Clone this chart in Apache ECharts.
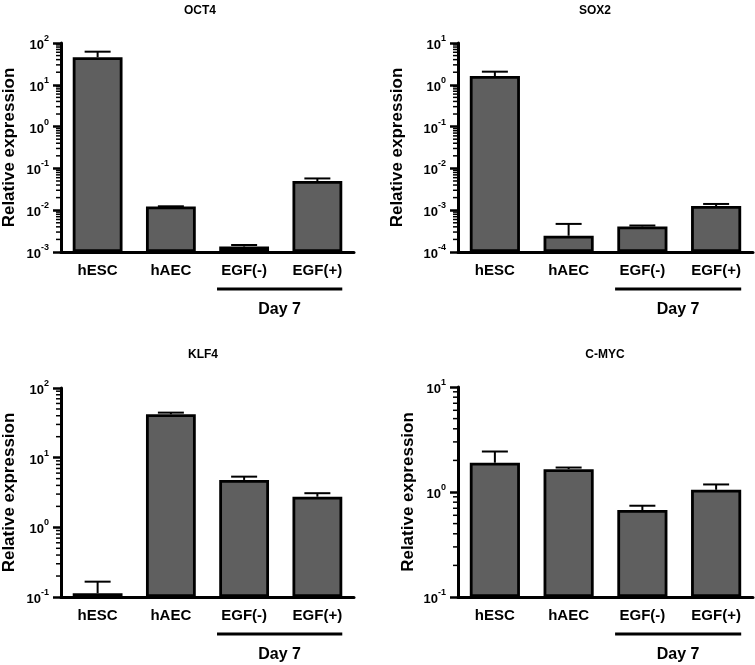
<!DOCTYPE html>
<html><head><meta charset="utf-8">
<script src="https://cdn.jsdelivr.net/npm/echarts@6/dist/echarts.min.js"></script>
<style>html,body{margin:0;padding:0;background:#fff}#c{width:755px;height:665px}</style>
</head><body><div id="c"></div>
<script>
const categories = ['hESC', 'hAEC', 'EGF(-)', 'EGF(+)'];
const panelTitles = ['OCT4', 'SOX2', 'KLF4', 'C-MYC'];
const oct4Mean = [45.7, 0.0123, 0.00135, 0.050];
const oct4Upper = [62, 0.0124, 0.00147, 0.0575];
const sox2Mean = [1.62, 0.000245, 0.00041, 0.00126];
const sox2Upper = [2.06, 0.00047, 0.00043, 0.00141];
const klf4Mean = [0.113, 42, 4.79, 2.75];
const klf4Upper = [0.166, 44.3, 5.34, 3.09];
const cmycMean = [1.90, 1.65, 0.673, 1.05];
const cmycUpper = [2.43, 1.71, 0.74, 1.18];
const yMin = [0.001, 0.0001, 0.1, 0.1];
const yMax = [100, 10, 100, 10];
const minorMultipliers = [2, 3, 4, 5, 6, 7, 8, 9];
const yAxisTitle = 'Relative expression';
const groupLabel = 'Day 7';
const groupStart = 2, groupEnd = 3;

const means = [oct4Mean, sox2Mean, klf4Mean, cmycMean];
const uppers = [oct4Upper, sox2Upper, klf4Upper, cmycUpper];

const FONT = '"Liberation Sans", Arial, sans-serif';
const grids = [
  {left: 61, top: 43, width: 293, height: 209},
  {left: 458, top: 43, width: 295, height: 209},
  {left: 61, top: 388, width: 293, height: 209},
  {left: 458, top: 387, width: 295, height: 210}
].map(g => Object.assign(g, {containLabel: false, outerBoundsMode: 'none'}));
const nameGaps = [43, 52, 43, 41];
const titlePos = [[200, 11], [595, 11], [203, 355], [605, 355]];

function minorValues(p) {
  const out = [];
  const lo = Math.round(Math.log10(yMin[p])), hi = Math.round(Math.log10(yMax[p]));
  for (let k = lo; k < hi; k++) {
    minorMultipliers.forEach(m => out.push([0, m * Math.pow(10, k)]));
  }
  return out;
}

function minorRender(params, api) {
  const cs = params.coordSys;
  const pt = api.coord([0, api.value(1)]);
  return {type: 'line', shape: {x1: cs.x - 5, y1: pt[1], x2: cs.x, y2: pt[1]},
    style: {stroke: '#000', lineWidth: 1.5}};
}

function groupRender(p) {
  return function (params, api) {
    const cs = params.coordSys;
    const c0 = api.coord([0, yMin[p]])[0], c1 = api.coord([1, yMin[p]])[0];
    const band = c1 - c0;
    const xs = api.coord([groupStart, yMin[p]])[0] - band * 0.37;
    const xe = api.coord([groupEnd, yMin[p]])[0] + band * 0.34;
    const yb = cs.y + cs.height;
    return {type: 'group', children: [
      {type: 'line', shape: {x1: xs, y1: yb + 37, x2: xe, y2: yb + 37}, style: {stroke: '#000', lineWidth: 3}},
      {type: 'text', x: (xs + xe) / 2, y: yb + 58,
        style: {text: groupLabel, font: 'bold 16px ' + FONT, fill: '#000', align: 'center', verticalAlign: 'middle'}}
    ]};
  };
}

function errRender(params, api) {
  const x = api.value(0), m = api.value(1), u = api.value(2);
  const p0 = api.coord([x, m]), p1 = api.coord([x, u]);
  return {type: 'group', children: [
    {type: 'line', shape: {x1: p0[0], y1: p0[1], x2: p1[0], y2: p1[1]}, style: {stroke: '#000', lineWidth: 2}},
    {type: 'line', shape: {x1: p1[0] - 13, y1: p1[1], x2: p1[0] + 13, y2: p1[1]}, style: {stroke: '#000', lineWidth: 2}}
  ]};
}

const xAxes = [], yAxes = [], series = [], graphics = [];
for (let p = 0; p < 4; p++) {
  xAxes.push({
    type: 'category', gridIndex: p, data: categories, boundaryGap: true,
    axisLine: {lineStyle: {color: '#000', width: 3}},
    axisTick: {alignWithLabel: true, length: 6, lineStyle: {color: '#000', width: 2}},
    axisLabel: {color: '#000', fontSize: 15, fontWeight: 'bold', fontFamily: FONT, margin: 11, interval: 0},
    splitLine: {show: false}
  });
  yAxes.push({
    type: 'log', logBase: 10, gridIndex: p, min: yMin[p], max: yMax[p], startValue: yMin[p],
    name: yAxisTitle, nameLocation: 'middle', nameRotate: 90, nameGap: nameGaps[p], nameMoveOverlap: false,
    nameTextStyle: {color: '#000', fontSize: 17, fontWeight: 'bold', fontFamily: FONT},
    axisLine: {show: true, lineStyle: {color: '#000', width: 3}},
    axisTick: {show: true, length: 8, lineStyle: {color: '#000', width: 2.5}},
    splitLine: {show: false},
    axisLabel: {
      margin: 12,
      formatter: function (v) {
        const e = Math.round(Math.log10(v));
        return '{b|10}{s|' + e + '}';
      },
      rich: {
        b: {fontSize: 13, fontWeight: 'bold', fontFamily: FONT, color: '#000', verticalAlign: 'bottom', lineHeight: 18},
        s: {fontSize: 9, fontWeight: 'bold', fontFamily: FONT, color: '#000', verticalAlign: 'top', lineHeight: 18}
      }
    }
  });
  series.push({
    type: 'bar', xAxisIndex: p, yAxisIndex: p, data: means[p], barWidth: '68%',
    itemStyle: {color: '#5f5f5f', borderColor: '#000', borderWidth: 2.8}, z: 2
  });
  series.push({
    type: 'custom', xAxisIndex: p, yAxisIndex: p, renderItem: errRender, z: 3, clip: false,
    encode: {x: 0, y: [1, 2]},
    data: categories.map((c, i) => [i, means[p][i], uppers[p][i]])
  });
  series.push({
    type: 'custom', xAxisIndex: p, yAxisIndex: p, renderItem: minorRender, z: 4, clip: false,
    encode: {x: 0, y: 1}, data: minorValues(p)
  });
  series.push({
    type: 'custom', xAxisIndex: p, yAxisIndex: p, renderItem: groupRender(p), z: 4, clip: false,
    encode: {x: 0, y: 1}, data: [[0, yMin[p]]]
  });
  graphics.push({type: 'text', x: titlePos[p][0], y: titlePos[p][1],
    style: {text: panelTitles[p], font: 'bold 12px ' + FONT, fill: '#000', align: 'center', verticalAlign: 'middle',
      textAlign: 'center', textVerticalAlign: 'middle'}});
}

const chart = echarts.init(document.getElementById('c'), null, {renderer: 'canvas'});
chart.setOption({
  animation: false,
  backgroundColor: '#fff',
  grid: grids,
  xAxis: xAxes,
  yAxis: yAxes,
  series: series,
  graphic: graphics
});
</script>
</body></html>
